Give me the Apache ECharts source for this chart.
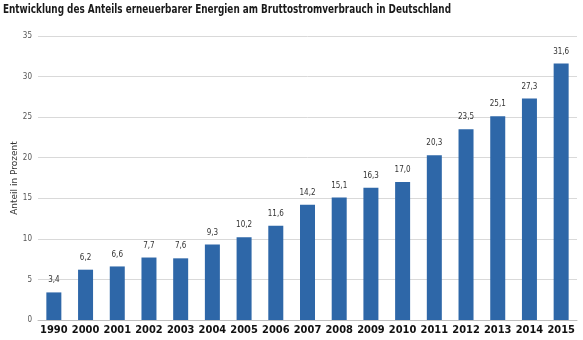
<!DOCTYPE html>
<html><head><meta charset="utf-8">
<script src="https://cdn.jsdelivr.net/npm/echarts@6/dist/echarts.min.js"></script>
<style>html,body{margin:0;padding:0;background:#fff}#c{width:583px;height:340px}</style>
</head><body><div id="c"></div>
<script>
const titleText = 'Entwicklung des Anteils erneuerbarer Energien am Bruttostromverbrauch in Deutschland';
const yAxisName = 'Anteil in Prozent';
const years = ['1990','2000','2001','2002','2003','2004','2005','2006','2007','2008','2009','2010','2011','2012','2013','2014','2015'];
const shares = [3.4,6.2,6.6,7.7,7.6,9.3,10.2,11.6,14.2,15.1,16.3,17.0,20.3,23.5,25.1,27.3,31.6];
const yTicks = [0,5,10,15,20,25,30,35];

const FONT = '"DejaVu Sans Condensed","DejaVu Sans",sans-serif';
const titleFont = 'bold 13px ' + FONT;
const cv = document.createElement('canvas').getContext('2d');
cv.font = titleFont;
const titleScale = 448 / cv.measureText(titleText).width;

const chart = echarts.init(document.getElementById('c'), null, {renderer:'canvas'});
chart.setOption({
  animation:false,
  backgroundColor:'#fff',
  graphic:[{type:'text',left:3,top:3,scaleX:titleScale,originX:0,
    style:{text:titleText,font:titleFont,fill:'#1a1a1a'}}],
  grid:{left:38,right:6,top:36,bottom:20,outerBoundsMode:'none',containLabel:false},
  xAxis:{type:'category',data:years,
    axisLine:{show:true,lineStyle:{color:'#bfbfbf'}},axisTick:{show:false},
    axisLabel:{fontFamily:FONT,fontWeight:'bold',fontSize:11,color:'#111',margin:5,interval:0}},
  yAxis:{type:'value',min:yTicks[0],max:yTicks[yTicks.length-1],interval:5,
    name:yAxisName,nameLocation:'middle',nameGap:19,nameMoveOverlap:false,
    nameTextStyle:{fontFamily:'"DejaVu Sans","Noto Sans",sans-serif',fontSize:9,color:'#333'},
    axisLine:{show:false},axisTick:{show:false},
    axisLabel:{fontFamily:FONT,fontSize:8,color:'#555',margin:6},
    splitLine:{lineStyle:{color:'#d9d9d9',width:1}}},
  series:[{type:'bar',data:shares,barWidth:15,
    itemStyle:{color:'#2e67a8'},
    label:{show:true,position:'top',distance:8,fontFamily:FONT,fontSize:8,color:'#333',
      formatter:p=>p.value.toFixed(1).replace('.',',')}}]
});
</script></body></html>
